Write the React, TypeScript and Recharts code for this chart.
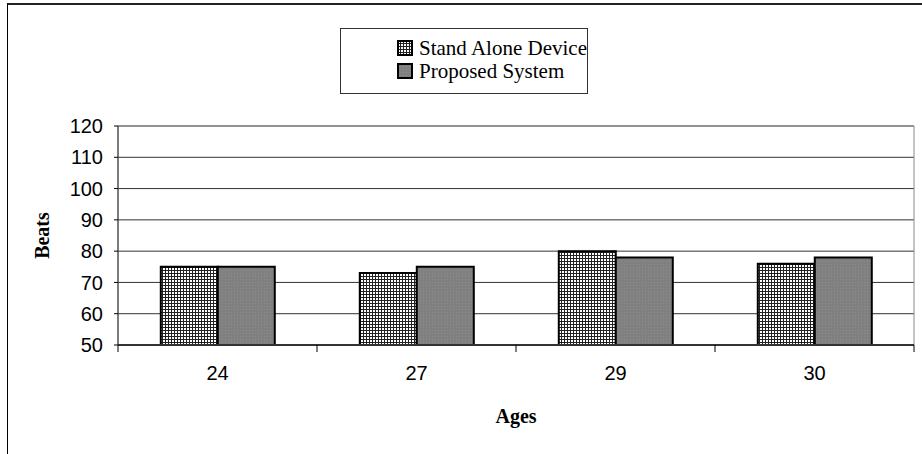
import React from 'react';
import { BarChart, Bar, XAxis, YAxis, CartesianGrid, Legend, ReferenceArea } from 'recharts';

const ages = ['24', '27', '29', '30'];
const standAlone = [75, 73, 80, 76];
const proposed = [75, 75, 78, 78];
const yTicks = [50, 60, 70, 80, 90, 100, 110, 120];
const seriesNames = ['Stand Alone Device', 'Proposed System'];

const data = ages.map((a, i) => ({ age: a, standAlone: standAlone[i], proposed: proposed[i] }));

const AxisTick = (props: any) => {
  const { x, y, payload, index } = props;
  const half = payload && typeof payload.offset === 'number' && payload.offset > 0 ? payload.offset : 99.5;
  return (
    <g>
      <line x1={x - half} y1={y} x2={x - half} y2={y + 7} stroke="#000" strokeWidth={1} />
      {index === ages.length - 1 && (
        <line x1={x + half} y1={y} x2={x + half} y2={y + 7} stroke="#000" strokeWidth={1} />
      )}
      <text x={x} y={y + 30} textAnchor="middle" dominantBaseline="middle" fontFamily="'Liberation Sans', Arial, sans-serif" fontSize={20} fill="#000">
        {payload.value}
      </text>
    </g>
  );
};

const XLabel = (props: any) => {
  const vb = props.viewBox || {};
  return (
    <text x={vb.x + vb.width / 2} y={vb.y + 78} textAnchor="middle" fontFamily="'Liberation Serif', 'Times New Roman', serif" fontWeight="bold" fontSize={20} fill="#000">
      Ages
    </text>
  );
};

const YLabel = (props: any) => {
  const vb = props.viewBox || {};
  const cy = vb.y + vb.height / 2;
  return (
    <text x={44} y={cy} transform={`rotate(-90, 44, ${cy})`} textAnchor="middle" dominantBaseline="middle" fontFamily="'Liberation Serif', 'Times New Roman', serif" fontWeight="bold" fontSize={20} fill="#000">
      Beats
    </text>
  );
};

const LegendBox = () => (
  <div
    style={{
      width: 246,
      height: 64,
      border: '1px solid #333',
      background: '#fff',
      boxSizing: 'content-box',
      fontFamily: "'Liberation Serif', 'Times New Roman', serif",
      fontSize: 21,
      color: '#000',
      position: 'relative',
    }}
  >
    {seriesNames.map((name, i) => (
      <div key={name} style={{ position: 'absolute', left: 56, top: 7 + i * 23, height: 24, display: 'flex', alignItems: 'center', whiteSpace: 'nowrap' }}>
        <svg width={16} height={16} style={{ marginRight: 6 }}>
          <defs>
            <pattern id={`lp${i}`} width={3} height={3} patternUnits="userSpaceOnUse">
              {i === 0 ? (
                <>
                  <rect width={3} height={3} fill="#fff" />
                  <rect width={3} height={1} fill="#222" />
                  <rect width={1} height={3} fill="#222" />
                </>
              ) : (
                <>
                  <rect width={3} height={3} fill="#808080" />
                  <rect width={1} height={1} fill="#8e8e8e" />
                </>
              )}
            </pattern>
          </defs>
          <rect x={1} y={1} width={14} height={14} fill={`url(#lp${i})`} stroke="#000" strokeWidth={2} />
        </svg>
        <span>{name}</span>
      </div>
    ))}
  </div>
);

export default function App() {
  return (
    <div style={{ position: 'absolute', left: 0, top: 0, width: 922, height: 454, background: '#fff', overflow: 'hidden' }}>
      <div style={{ position: 'absolute', left: 7, top: 3, width: 940, height: 470, borderLeft: '1px solid #000', borderTop: '2px solid #222' }} />
      <div style={{ position: 'absolute', left: 0, top: 0 }}>
        <BarChart
          width={922}
          height={454}
          data={data}
          margin={{ top: 126, right: 8, bottom: 0, left: 0 }}
          barCategoryGap="21.5%"
          barGap={0}
        >
          <defs>
            <pattern id="patStand" width={3} height={3} patternUnits="userSpaceOnUse">
              <rect width={3} height={3} fill="#fff" />
              <rect width={3} height={1} fill="#222" />
              <rect width={1} height={3} fill="#222" />
            </pattern>
            <pattern id="patProp" width={3} height={3} patternUnits="userSpaceOnUse">
              <rect width={3} height={3} fill="#808080" />
              <rect width={1} height={1} fill="#8e8e8e" />
            </pattern>
          </defs>
          <CartesianGrid vertical={false} stroke="#333" strokeDasharray="" />
          <ReferenceArea y1={50} y2={120} fill="none" stroke="#8a8a8a" strokeWidth={1} ifOverflow="visible" />
          <XAxis
            dataKey="age"
            height={109}
            tickLine={false}
            tickSize={0}
            tickMargin={0}
            axisLine={{ stroke: '#333', strokeWidth: 2 }}
            tick={<AxisTick />}
            interval={0}
            label={<XLabel />}
          />
          <YAxis
            width={118}
            domain={[50, 120]}
            ticks={yTicks}
            interval={0}
            tickSize={4}
            tickMargin={11}
            axisLine={{ stroke: '#333', strokeWidth: 1 }}
            tickLine={{ stroke: '#000' }}
            tick={{ fill: '#000', fontSize: 20, fontFamily: "'Liberation Sans', Arial, sans-serif" }}
            label={<YLabel />}
          />
          <Legend
            layout="vertical"
            align="center"
            verticalAlign="middle"
            content={<LegendBox />}
            wrapperStyle={{ position: 'absolute', left: 340, top: 28, width: 248, height: 66 }}
          />
          <Bar dataKey="standAlone" name={seriesNames[0]} fill="url(#patStand)" stroke="#000" strokeWidth={2} isAnimationActive={false} />
          <Bar dataKey="proposed" name={seriesNames[1]} fill="url(#patProp)" stroke="#000" strokeWidth={2} isAnimationActive={false} />
        </BarChart>
      </div>
    </div>
  );
}
